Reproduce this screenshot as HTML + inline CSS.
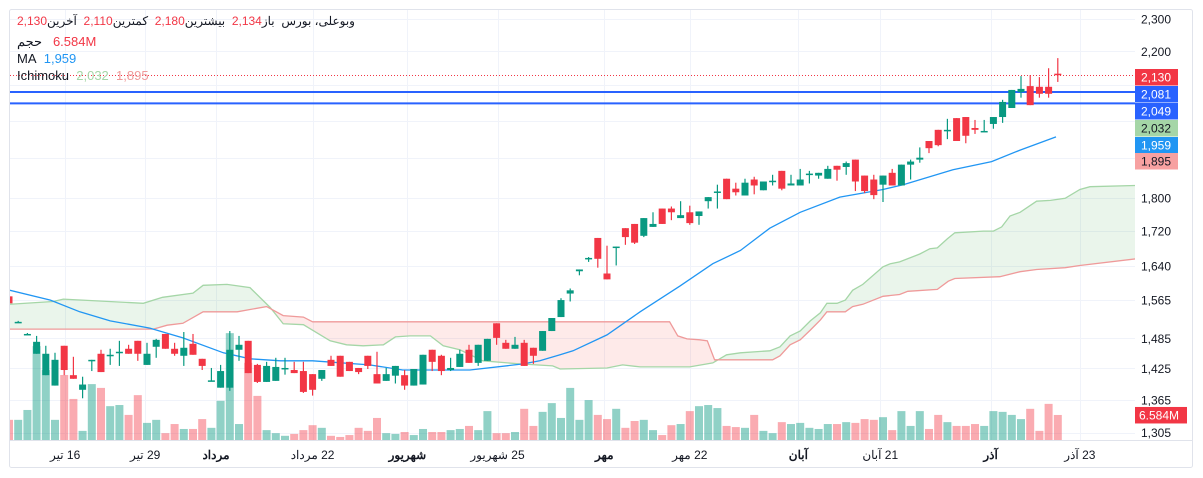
<!DOCTYPE html>
<html><head><meta charset="utf-8">
<style>
html,body{margin:0;padding:0;background:#fff;}
body{width:1203px;height:478px;overflow:hidden;position:relative;font-family:"Liberation Sans","Noto Sans CJK SC",sans-serif;}
svg{position:absolute;left:0;top:0;}
.leg{position:absolute;left:17px;font-size:13px;color:#131722;white-space:nowrap;line-height:16px;}
.r{color:#f23645}.b{color:#2196f3}.g{color:#a5d6a7}.p{color:#ef9a9a}
</style></head><body>
<svg id="chart" width="1203" height="478"></svg>
<div class="leg" style="top:13px;font-size:12px;" dir="rtl">وبوعلی، بورس&nbsp; باز<bdi class="r">2,134</bdi>&nbsp; بیشترین<bdi class="r">2,180</bdi>&nbsp; کمترین<bdi class="r">2,110</bdi>&nbsp; آخرین<bdi class="r">2,130</bdi></div>
<div class="leg" style="top:34px;" dir="ltr"><bdi>حجم</bdi>&nbsp;&nbsp; <bdi class="r" dir="ltr">6.584M</bdi></div>
<div class="leg" style="top:51px;">MA&nbsp;&nbsp;<span class="b">1,959</span></div>
<div class="leg" style="top:68px;">Ichimoku&nbsp;&nbsp;<span class="g">2,032</span>&nbsp;&nbsp;<span class="p">1,895</span></div>
<script>
const opens=[1573,1519,1494,1454,1412,1392,1470,1412,1384,1440,1454,1450,1456,1464,1480,1432,1468,1494,1464,1450,1474,1444,1400,1388,1388,1462,1480,1432,1399,1401,1424,1422,1420,1414,1405,1442,1450,1438,1426,1450,1414,1401,1411,1412,1392,1394,1462,1450,1422,1428,1462,1436,1440,1516,1476,1464,1476,1466,1460,1500,1529,1579,1628,1656,1704,1623,1682,1727,1737,1709,1730,1774,1774,1751,1765,1756,1792,1814,1848,1823,1806,1846,1819,1841,1868,1831,1831,1859,1856,1848,1881,1878,1897,1856,1846,1833,1863,1831,1884,1897,1946,1976,1973,2008,2011,1981,1971,1992,2011,2036,2081,2098,2096,2096,2134];
const highs=[1575,1521,1496,1490,1470,1456,1470,1448,1409,1442,1462,1464,1480,1472,1480,1476,1484,1494,1476,1498,1494,1444,1426,1432,1500,1490,1480,1434,1438,1446,1446,1438,1438,1414,1422,1450,1450,1438,1426,1450,1458,1426,1430,1422,1424,1452,1462,1452,1446,1462,1472,1472,1484,1516,1482,1488,1482,1466,1500,1527,1569,1590,1632,1660,1704,1686,1684,1727,1737,1751,1765,1774,1779,1792,1781,1767,1802,1833,1848,1838,1848,1853,1841,1858,1868,1858,1873,1868,1863,1881,1881,1892,1897,1856,1858,1856,1873,1884,1897,1929,1946,1976,2006,2008,2011,2003,2003,2011,2059,2087,2127,2130,2124,2150,2180];
const lows=[1556,1517,1492,1454,1412,1392,1412,1405,1368,1420,1418,1432,1430,1454,1440,1432,1446,1464,1450,1430,1452,1422,1400,1388,1382,1440,1416,1397,1399,1401,1413,1416,1378,1373,1401,1430,1409,1420,1414,1424,1396,1401,1396,1384,1392,1394,1420,1412,1420,1428,1436,1430,1440,1472,1464,1464,1430,1434,1460,1500,1529,1562,1619,1649,1636,1610,1641,1688,1690,1706,1730,1737,1746,1751,1735,1735,1774,1774,1797,1806,1806,1809,1819,1831,1819,1831,1831,1836,1848,1848,1843,1858,1817,1812,1797,1790,1831,1831,1846,1889,1914,1932,1951,1946,1940,1965,1971,1979,1995,2036,2065,2044,2065,2065,2110];
const closes=[1558,1519,1494,1478,1454,1442,1422,1405,1394,1442,1418,1452,1458,1454,1454,1454,1482,1464,1454,1466,1452,1430,1402,1420,1462,1472,1416,1399,1430,1428,1426,1416,1380,1384,1422,1430,1409,1420,1418,1430,1396,1414,1430,1392,1424,1452,1438,1420,1426,1454,1436,1472,1484,1486,1464,1472,1430,1450,1500,1527,1565,1586,1632,1658,1656,1610,1684,1706,1693,1751,1737,1737,1765,1758,1739,1767,1802,1816,1797,1814,1838,1831,1841,1843,1823,1836,1846,1861,1863,1873,1871,1888,1841,1817,1807,1856,1831,1884,1892,1902,1927,1935,1976,1946,1960,1976,1973,2011,2053,2087,2090,2044,2076,2076,2130];
const volumes=[5.3,5.3,7.9,24.7,18.4,5.3,17.1,10.8,2.4,14.7,13.7,8.9,9.2,6.6,11.8,4.5,5.3,1.8,4.2,2.9,2.9,5.5,3.2,10.3,28.1,4.2,20.3,11.6,2.6,1.8,1.1,1.6,2.6,3.9,3.2,1.1,0.8,1.3,3.2,2.4,5.8,1.8,1.6,2.1,1.3,2.9,2.1,2.1,2.6,2.9,3.7,2.6,7.6,1.8,1.8,2.1,8.2,3.7,7.4,9.7,5.8,13.7,5.3,10.5,6.6,5.5,8.2,3.2,5.0,5.3,2.6,1.3,3.9,4.2,7.6,8.9,9.2,8.4,3.7,3.4,3.2,6.6,2.4,1.8,4.7,4.2,4.5,3.2,2.9,4.2,4.2,4.7,4.5,5.5,5.3,6.0,2.6,7.6,3.7,7.6,2.9,6.6,4.7,3.7,3.7,4.2,3.7,7.6,7.4,6.6,5.5,8.2,2.4,9.5,6.584];
const maIdx=[0.1,4.5,7.7,11,15.3,18.9,23.3,26.2,29.5,33,39.2,42.8,50.1,55.9,57.7,59.9,61.3,65,68.6,72.9,76.5,79.5,82.7,86,90.3,95,97.2,102.6,106.8,109.9,113.8];
const maVal=[1586,1565,1540,1521,1506,1486,1456,1444,1440,1440,1432,1422,1422,1434,1440,1452,1460,1492,1540,1595,1645,1675,1727,1765,1802,1821,1833,1871,1892,1922,1957];
const spanAIdx=[0,4.8,5.9,14.6,16.7,20,21.1,23.7,26.2,28.4,29.8,32,34.9,36.7,38.5,40.7,42,43.6,45.8,47.2,49,51.5,55.5,59.1,59.9,65,66.7,68.6,74,76.5,78,79.5,82.7,83.8,84.9,86,87.1,88.2,88.9,90,90.9,91.7,92.8,95,95.8,96.8,99,100.1,100.9,102,102.8,105.9,107,107.9,108.8,109.9,111.7,113.2,114.8,116.4,117.5,122.5];
const spanAVal=[1556,1562,1567,1558,1571,1580,1597,1599,1592,1549,1515,1513,1480,1472,1470,1472,1488,1490,1490,1470,1462,1440,1434,1430,1424,1426,1432,1428,1428,1436,1452,1456,1460,1468,1490,1500,1521,1538,1558,1558,1565,1586,1599,1638,1645,1649,1667,1679,1681,1702,1716,1720,1720,1730,1756,1765,1792,1794,1799,1821,1828,1831];
const spanBIdx=[0,15.7,17.2,18.9,21.1,24.8,28,29.8,32,33,71.8,72.7,73.7,75.1,75.9,76.7,83,83.8,84.9,86,87.1,88.2,88.9,90.9,91.7,92.8,95,96.8,97.7,100.9,102.1,102.8,107.7,109.9,111.7,114.8,116.4,122.5];
const spanBVal=[1504,1504,1512,1516,1540,1540,1551,1532,1529,1519,1519,1490,1484,1482,1480,1442,1442,1450,1472,1482,1502,1523,1540,1540,1551,1556,1573,1577,1584,1588,1606,1612,1616,1627,1632,1636,1641,1656];
const priceTicks=[2300,2200,2100,2000,1900,1800,1720,1640,1565,1485,1425,1365,1305];
const priceTickLabels=["2,300","2,200","","","","1,800","1,720","1,640","1,565","1,485","1,425","1,365","1,305"];
const dateIdx=[6.1,14.8,22.5,33,43.3,53.1,64.7,74,85.8,94.7,106.7,116.4];
const dateLabels=["16 تیر","29 تیر","مرداد","22 مرداد","شهریور","25 شهریور","مهر","22 مهر","آبان","21 آبان","آذر","23 آذر"];
const dateBold=[0,0,1,0,1,0,1,0,1,0,1,0];
const hLines=[2081,2049];
const lastPrice=2130;
const axisLabels=[["2,130","#f23645","#fff",77],["2,081","#2962ff","#fff",94],["2,049","#2962ff","#fff",111],["2,032","#a5d6a7","#131722",128],["1,959","#2196f3","#fff",145],["1,895","#f7a1a1","#131722",161]];

const NS="http://www.w3.org/2000/svg";
const svg=document.getElementById('chart');
const L=10,R=1135,T=10,B=440;
const X=i=>9+9.2*i;
const Y=p=>19+730*Math.log(2300/p);
const YV=v=>B-v/0.263;
function mk(tag,attrs,parent){const e=document.createElementNS(NS,tag);for(const k in attrs)e.setAttribute(k,attrs[k]);(parent||svg).appendChild(e);return e;}
let e=mk('rect',{x:9.5,y:9.5,width:1183,height:458,fill:'#fff',stroke:'#e0e3eb','stroke-width':1,rx:2});


const clip=mk('clipPath',{id:'pc'});mk('rect',{x:L,y:T,width:R-L,height:B-T},clip);
const g=mk('g',{'clip-path':'url(#pc)'});


priceTicks.forEach(p=>{const y=Math.round(Y(p))+0.5;const l=mk('line',{x1:L,x2:R,y1:y,y2:y,stroke:'#f0f3fa'},g);

});
dateIdx.forEach(i=>{const x=Math.round(X(i))+0.5;const l=mk('line',{x1:x,x2:x,y1:T,y2:B,stroke:'#f0f3fa'},g);

});
volumes.forEach((v,i)=>{const up=closes[i]>=opens[i];const x=X(i);const r=mk('rect',{x:x-4,y:YV(v),width:8,height:B-YV(v),fill:up?'rgba(8,153,129,0.45)':'rgba(242,54,69,0.42)'},g);

});
function interp(idx,val,t){if(t<=idx[0])return val[0];for(let k=1;k<idx.length;k++){if(t<=idx[k]){const f=(t-idx[k-1])/(idx[k]-idx[k-1]);return val[k-1]+f*(val[k]-val[k-1]);}}return val[val.length-1];}
const step=0.25;
for(let t=0;t<122.5;t+=step){const a0=interp(spanAIdx,spanAVal,t),a1=interp(spanAIdx,spanAVal,t+step),b0=interp(spanBIdx,spanBVal,t),b1=interp(spanBIdx,spanBVal,t+step);
const col=(a0+a1)>=(b0+b1)?'rgba(67,160,71,0.11)':'rgba(244,67,54,0.11)';
mk('polygon',{points:`${X(t)},${Y(a0)} ${X(t+step)},${Y(a1)} ${X(t+step)},${Y(b1)} ${X(t)},${Y(b0)}`,fill:col,stroke:'none'},g);}
function line(idx,val,color,name){const d=idx.map((t,k)=>(k?'L':'M')+X(t).toFixed(1)+','+Y(val[k]).toFixed(1)).join('');const p=mk('path',{d:d,fill:'none',stroke:color,'stroke-width':1.3},g);

}
line(spanAIdx,spanAVal,'#a5d6a7','ichimoku-span-a');
line(spanBIdx,spanBVal,'#ef9a9a','ichimoku-span-b');
line(maIdx,maVal,'#2196f3','ma-line');
hLines.forEach(p=>{const y=Y(p);const l=mk('line',{x1:L,x2:R,y1:y,y2:y,stroke:'#2962ff','stroke-width':2},g);

});
const lp=mk('line',{x1:L,x2:R,y1:Math.round(Y(lastPrice))+0.5,y2:Math.round(Y(lastPrice))+0.5,stroke:'#f23645','stroke-width':1,'stroke-dasharray':'1,2'},g);


opens.forEach((o,i)=>{const c=closes[i],up=c>=o,col=up?'#089981':'#f23645',x=X(i);
const w=mk('line',{x1:x,x2:x,y1:Y(highs[i]),y2:Y(lows[i]),stroke:col,'stroke-width':1.2},g);


const top=Y(Math.max(o,c)),bot=Y(Math.min(o,c));
const b=mk('rect',{x:x-3.5,y:top,width:7,height:Math.max(1.5,bot-top),fill:col},g);

});
mk('line',{x1:L,x2:1192,y1:B+0.5,y2:B+0.5,stroke:'#e0e3eb'});
priceTicks.forEach((p,k)=>{if(!priceTickLabels[k])return;const t=mk('text',{x:1141,y:Y(p)+4.5,'font-size':12,fill:'#131722','font-family':'Liberation Sans, sans-serif'});t.textContent=priceTickLabels[k];

});
axisLabels.forEach(a=>{const r=mk('rect',{x:1135,y:a[3]-8,width:43,height:16.5,fill:a[1]});


const t=mk('text',{x:1141,y:a[3]+4.5,'font-size':12,fill:a[2],'font-family':'Liberation Sans, sans-serif'});t.textContent=a[0];

});
const vb=mk('rect',{x:1135,y:YV(volumes[volumes.length-1])-8,width:52,height:16.5,fill:'#f23645'});


const vt=mk('text',{x:1139,y:YV(volumes[volumes.length-1])+4.5,'font-size':12,fill:'#fff','font-family':'Liberation Sans, sans-serif'});vt.textContent='6.584M';


dateIdx.forEach((i,k)=>{const t=mk('text',{x:X(i),y:459,'font-size':12,fill:'#131722','text-anchor':'middle','font-weight':dateBold[k]?'bold':'normal','font-family':'Liberation Sans, Noto Sans CJK SC, sans-serif',direction:'rtl'});t.textContent=dateLabels[k];

});
</script>
</body></html>
